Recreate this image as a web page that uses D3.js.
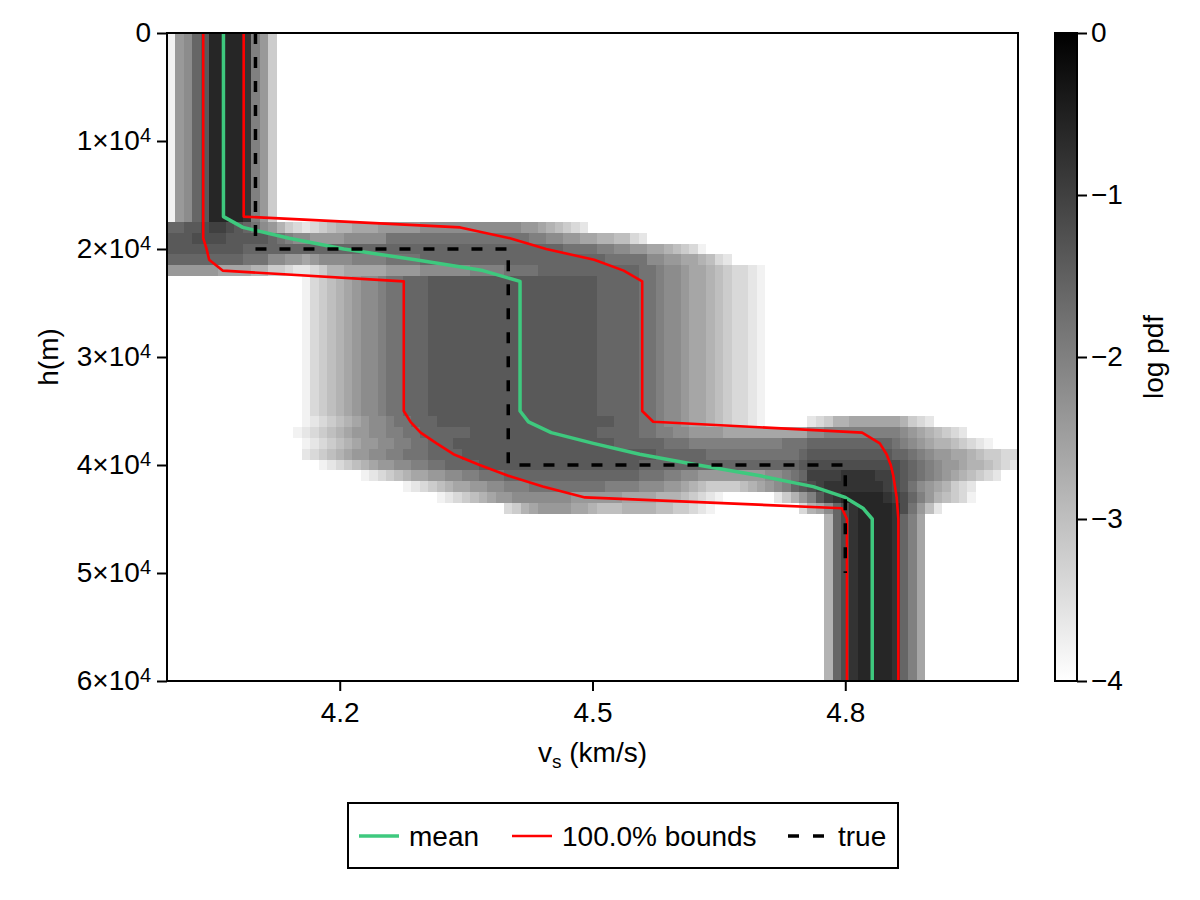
<!DOCTYPE html>
<html>
<head>
<meta charset="utf-8">
<script src="https://cdn.jsdelivr.net/npm/d3@7"></script>
<style>
  body { margin: 0; background: #fff; }
  svg text { font-family: "Liberation Sans", Arial, sans-serif; fill: #000; }
</style>
</head>
<body>
<div id="chart"></div>
<script>
// histogram grid: column centres start at vsMin, one column per vsStep, one row per depthStep
var vsMin = 4.00;
var vsStep = 0.01;
var depthStep = 1000;

// one letter per cell, a = 0 ... u = -4 (log pdf)
var levelChars = "abcdefghijklmnopqrstu";
var levelValues = [0, -0.2, -0.4, -0.6, -0.8, -1.0, -1.2, -1.4, -1.6, -1.8, -2.0,
                   -2.2, -2.4, -2.6, -2.8, -3.0, -3.2, -3.4, -3.6, -3.8, -4.0];

// rows of the log pdf: depth range + [first column, cells]
var pdfRows = [
  { from: 0, to: 17000, segs: [[0, "tmlihddddekmq"]] },
  { from: 18000, to: 18000, segs: [[0, "iihhgffghi" + "jlmoqrsrqp" + "oonnnmmmmm" + "llllllllll" + "llmmnopqrs"]] },
  { from: 19000, to: 19000, segs: [[0, "hhhgggghhh" + "hhijkllmmm" + "mllllljjjj" + "jjjjjjjjjj" + "jjjkkllmmn" + "noopprs"]] },
  { from: 20000, to: 20000, segs: [[0, "hhhhhhhhhi" + "iiiiiiiiii" + "iiiiiiiiii" + "iiiiiiiiii" + "iiiiiiijjj" + "jkkllmmnno" + "pqrt"]] },
  { from: 21000, to: 21000, segs: [[0, "iiiiiiiiij" + "jjllmmnmll" + "llkkkkjjjj" + "iiiiiiiiii" + "iiiiiiiiii" + "iijjjjjllm" + "mnnoprs"]] },
  { from: 22000, to: 22000, segs: [[0, "mmmmmmnnnn" + "ooqqrssrqo" + "onnnnnmmmm" + "llllllkkkk" + "jjjjiiiiii" + "iiiiiijjkl" + "lmnnopqrrst"]] },
  { from: 23000, to: 35000, segs: [[16, "trqponmllk" + "jjiiihhhhh" + "hhhhhhhhhh" + "hhhhhiiiii" + "jjkllmnnop" + "qrrst"]] },
  { from: 36000, to: 36000, segs: [[16, "tsrqponmll" + "kjjiiihhhh" + "hhhhhhhhhh" + "hhhhhhhiii" + "jjkllmnnop" + "qrrst"],
                                   [76, "srqoonnnnnnoqrs"]] },
  { from: 37000, to: 37000, segs: [[15, "tsrqponmml" + "lkkjjiiiii" + "ihhhhhhhhh" + "hhhhhhiiii" + "ijjkkllmmm" + "mnnnnnnnnn" + "nllkkkkkkk" + "kklmnopqrs"]] },
  { from: 38000, to: 38000, segs: [[16, "tsrqponmml" + "lkkjjiiihh" + "hhhhhhhhhh" + "hhhhhhhiii" + "iiijjjkkkk" + "kkkkkkkjjj" + "iiiiiiiiii" + "jklmnoopqrst"]] },
  { from: 39000, to: 39000, segs: [[16, "srqponmmll" + "kkjjjiiiih" + "hhhhhhhhhh" + "hhhhhhhhhh" + "hhiiiiiijj" + "jjjjjjjjji" + "hhhhhhhhhh" + "iijklmmnnopqqrr"]] },
  { from: 40000, to: 40000, segs: [[18, "tsrqponmml" + "lkkjjiiiih" + "hhhhhhhhhh" + "hhhhhhhhii" + "iiiiiiiiii" + "iiiiiiihgg" + "gggggggggh" + "ijklmmnoopqrs"]] },
  { from: 41000, to: 41000, segs: [[23, "tsrqponnmm" + "llkkjjjiii" + "iiiiiiiiii" + "iiijjjkkll" + "mmmmmmmmll" + "kjiffffeee" + "effghijklm" + "nopqrs"]] },
  { from: 42000, to: 42000, segs: [[28, "tsrqponnmm" + "llkkkjjjjj" + "jjjjkkkkll" + "lmmnopqqqq" + "ponmlkihgf" + "eeeeeeefgh" + "jlmnoqrs"]] },
  { from: 43000, to: 43000, segs: [[32, "tsrqponmml" + "llllllmmmm" + "mmnnnnooop" + "qrst"],
                                   [72, "sqomkhfedd" + "dddefgikmo" + "pqrt"]] },
  { from: 44000, to: 44000, segs: [[40, "rqonmmmmnn" + "opppoooopp" + "qqrst"],
                                   [75, "ronligeddd" + "degjmps"]] },
  { from: 45000, to: 60000, segs: [[78, "oigeddddeikn"]] }
];

// profiles through depth
var lineDepths = [0, 17000, 18000, 19000, 20000, 21000, 22000, 23000, 35000, 36000,
                  37000, 38000, 39000, 40000, 41000, 42000, 43000, 44000, 45000, 60000];
var meanVs  = [4.062, 4.062, 4.085, 4.14, 4.205, 4.29, 4.37, 4.414, 4.414, 4.424,
               4.451, 4.501, 4.556, 4.625, 4.699, 4.762, 4.80, 4.821, 4.832, 4.832];
var lowerVs = [4.038, 4.038, 4.038, 4.038, 4.042, 4.045, 4.061, 4.276, 4.276, 4.284,
               4.296, 4.315, 4.335, 4.366, 4.40, 4.441, 4.491, 4.796, 4.802, 4.802];
var upperVs = [4.086, 4.086, 4.343, 4.402, 4.445, 4.502, 4.537, 4.559, 4.559, 4.572,
               4.82, 4.841, 4.849, 4.854, 4.857, 4.859, 4.861, 4.862, 4.863, 4.863];
var trueDepths = [0, 20000, 20000, 40000, 40000, 50000];
var trueVs     = [4.1, 4.1, 4.4, 4.4, 4.8, 4.8];

var xTicks = [4.2, 4.5, 4.8];
var yTicks = [0, 10000, 20000, 30000, 40000, 50000, 60000];
var cbTicks = [0, -1, -2, -3, -4];
var legendLabels = ["mean", "100.0% bounds", "true"];

function init() {
  var w = 1200, h = 900;
  var left = 167, right = 1018, top = 33, bottom = 681;
  var fs = 28;
  var green = "#3ec97e", red = "#ff0000";

  var svg = d3.select("#chart").append("svg")
    .attr("width", w).attr("height", h);

  svg.append("rect").attr("width", w).attr("height", h).attr("fill", "#fff");

  var xScale = d3.scaleLinear()
    .domain([vsMin - vsStep / 2, vsMin + 100 * vsStep + vsStep / 2])
    .range([left, right]);
  var yScale = d3.scaleLinear().domain([0, 60000]).range([top, bottom]);
  var color = d3.scaleLinear().domain([-4, 0]).range(["#ffffff", "#000000"]).clamp(true);

  // unpack the rows into cells
  var cells = [];
  pdfRows.forEach(function(r) {
    for (var d = r.from; d <= r.to; d += depthStep) {
      r.segs.forEach(function(s) {
        s[1].split("").forEach(function(c, i) {
          var col = s[0] + i;
          cells.push({ vs: vsMin + col * vsStep, depth: d, value: levelValues[levelChars.indexOf(c)] });
        });
      });
    }
  });

  svg.append("clipPath").attr("id", "plotclip")
    .append("rect").attr("x", left).attr("y", top)
    .attr("width", right - left).attr("height", bottom - top);

  var plot = svg.append("g").attr("clip-path", "url(#plotclip)");

  plot.append("g")
    .attr("shape-rendering", "crispEdges")
    .selectAll("rect")
    .data(cells)
    .enter()
    .append("rect")
    .attr("x", d => xScale(d.vs - vsStep / 2))
    .attr("y", d => yScale(d.depth - depthStep / 2))
    .attr("width", d => xScale(d.vs + vsStep / 2) - xScale(d.vs - vsStep / 2))
    .attr("height", d => yScale(d.depth + depthStep / 2) - yScale(d.depth - depthStep / 2))
    .attr("fill", d => color(d.value));

  var line = d3.line()
    .x(d => xScale(d[0]))
    .y(d => yScale(d[1]));

  plot.append("path")
    .datum(meanVs.map((v, i) => [v, lineDepths[i]]))
    .attr("fill", "none").attr("stroke", green).attr("stroke-width", 3.5)
    .attr("stroke-linejoin", "round")
    .attr("d", line);

  [lowerVs, upperVs].forEach(function(arr) {
    plot.append("path")
      .datum(arr.map((v, i) => [v, lineDepths[i]]))
      .attr("fill", "none").attr("stroke", red).attr("stroke-width", 2.6)
      .attr("stroke-linejoin", "round")
      .attr("d", line);
  });

  plot.append("path")
    .datum(trueVs.map((v, i) => [v, trueDepths[i]]))
    .attr("fill", "none").attr("stroke", "#000").attr("stroke-width", 3.5)
    .attr("stroke-dasharray", "11,13")
    .attr("d", line);

  // axes
  var xAxis = d3.axisBottom(xScale)
    .tickValues(xTicks).tickSize(10).tickPadding(11)
    .tickFormat(d3.format(".1f"));
  var gx = svg.append("g")
    .attr("transform", `translate(0,${bottom})`)
    .call(xAxis);

  var yAxis = d3.axisLeft(yScale)
    .tickValues(yTicks).tickSize(10).tickPadding(6);
  var gy = svg.append("g")
    .attr("transform", `translate(${left},0)`)
    .call(yAxis);

  [gx, gy].forEach(function(g) {
    g.select(".domain").remove();
    g.selectAll(".tick line").attr("stroke", "#000").attr("stroke-width", 2);
    g.selectAll(".tick text").attr("font-size", fs)
      .attr("font-family", "Liberation Sans, Arial, sans-serif");
  });

  gy.selectAll(".tick text").each(function(d) {
    var t = d3.select(this).text(null);
    if (d === 0) {
      t.text("0");
    } else {
      t.append("tspan").text((d / 10000) + "×10");
      t.append("tspan").attr("dy", "-0.42em").attr("font-size", 20).text("4");
    }
  });

  svg.append("rect")
    .attr("x", left).attr("y", top)
    .attr("width", right - left).attr("height", bottom - top)
    .attr("fill", "none").attr("stroke", "#000").attr("stroke-width", 2);

  // axis labels
  var xl = svg.append("text")
    .attr("x", (left + right) / 2).attr("y", 762)
    .attr("text-anchor", "middle").attr("font-size", fs);
  xl.append("tspan").text("v");
  xl.append("tspan").attr("font-size", 19).attr("dy", 6).text("s");
  xl.append("tspan").attr("dy", -6).text(" (km/s)");

  svg.append("text")
    .attr("transform", `translate(58,${(top + bottom) / 2}) rotate(-90)`)
    .attr("text-anchor", "middle").attr("font-size", fs)
    .text("h(m)");

  // colorbar
  var cbX = 1055, cbW = 22;
  var cbScale = d3.scaleLinear().domain([0, -4]).range([top, bottom]);
  var grad = svg.append("defs").append("linearGradient")
    .attr("id", "cbgrad").attr("x1", 0).attr("y1", 0).attr("x2", 0).attr("y2", 1);
  cbTicks.forEach(function(v) {
    grad.append("stop")
      .attr("offset", (cbScale(v) - top) / (bottom - top))
      .attr("stop-color", color(v));
  });
  svg.append("rect")
    .attr("x", cbX).attr("y", top).attr("width", cbW).attr("height", bottom - top)
    .attr("fill", "url(#cbgrad)").attr("stroke", "#000").attr("stroke-width", 2);

  var cbAxis = d3.axisRight(cbScale)
    .tickValues(cbTicks).tickSize(10).tickPadding(4)
    .tickFormat(d => d === 0 ? "0" : "\u2212" + Math.abs(d));
  var gc = svg.append("g")
    .attr("transform", `translate(${cbX + cbW},0)`)
    .call(cbAxis);
  gc.select(".domain").remove();
  gc.selectAll(".tick line").attr("stroke", "#000").attr("stroke-width", 2);
  gc.selectAll(".tick text").attr("font-size", fs)
    .attr("font-family", "Liberation Sans, Arial, sans-serif");

  svg.append("text")
    .attr("transform", `translate(1163,${(top + bottom) / 2}) rotate(-90)`)
    .attr("text-anchor", "middle").attr("font-size", fs)
    .text("log pdf");

  // legend
  var lg = svg.append("g");
  lg.append("rect")
    .attr("x", 348).attr("y", 803).attr("width", 550).attr("height", 65)
    .attr("fill", "#fff").attr("stroke", "#000").attr("stroke-width", 2);

  var items = [
    { x: 359, stroke: green, dash: null, width: 3.5 },
    { x: 512, stroke: red, dash: null, width: 2.6 },
    { x: 788, stroke: "#000", dash: "11,14", width: 3.5 }
  ];
  items.forEach(function(it, i) {
    lg.append("line")
      .attr("x1", it.x).attr("x2", it.x + 40)
      .attr("y1", 836).attr("y2", 836)
      .attr("stroke", it.stroke).attr("stroke-width", it.width)
      .attr("stroke-dasharray", it.dash);
    lg.append("text")
      .attr("x", it.x + 50).attr("y", 846)
      .attr("font-size", fs)
      .text(legendLabels[i]);
  });
}

window.onload = init;
</script>
</body>
</html>
